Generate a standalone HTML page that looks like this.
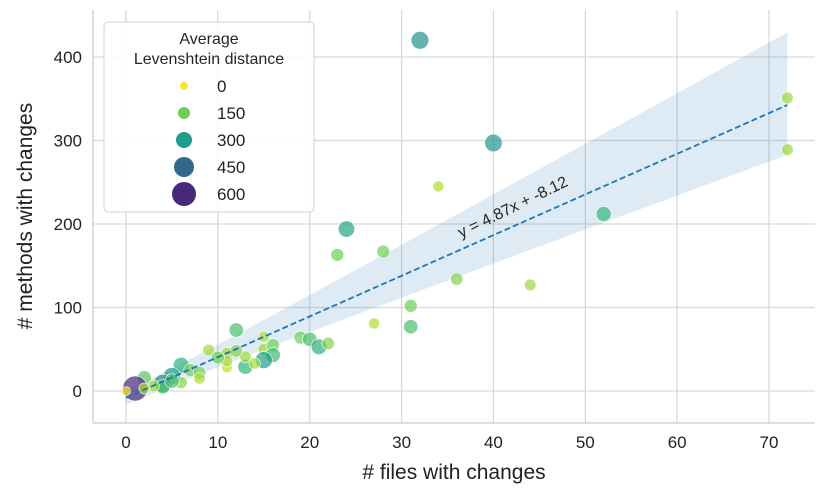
<!DOCTYPE html>
<html><head><meta charset="utf-8"><style>
body{margin:0;background:#fff;}
svg{font-family:"Liberation Sans","DejaVu Sans",sans-serif;}
</style></head><body>
<svg id="chart" width="830" height="498" xmlns="http://www.w3.org/2000/svg"></svg>
<script>
const filesChanged = [32,40,72,72,34,52,24,28,23,36,44,31,31,27,12,9,11,11,11,19,20,21,22,15,15,16,16,15,13,13,12,6,5,4,4,2,1,0,6,7,8,8,3,2,5,14,10];
const methodsChanged = [420,297,351,289,245,212,194,167,163,134,127,102,77,81,73,49,45,28,36,64,62,53,57,65,50,55,43,37,29,41,48,31,18,9,5,16,3,0,10,25,22,15,6,3,12,33,40];
const levDist = [330,320,100,100,80,230,280,150,150,130,100,150,200,80,200,100,110,60,90,150,200,250,130,80,100,150,220,300,230,100,130,250,300,350,200,180,600,0,120,150,140,90,100,80,200,90,150];
const xTicks = [0,10,20,30,40,50,60,70];
const yTicks = [0,100,200,300,400];
const legendValues = [0,150,300,450,600];
const slope = 4.87, intercept = -8.12;

const NS="http://www.w3.org/2000/svg";
const svg=document.getElementById('chart');
const L=93,R=815,T=10,B=423;
const xs=v=>126+(v)*9.186;
const ys=v=>391-v*0.835;
function el(tag,attrs,parent){const e=document.createElementNS(NS,tag);for(const k in attrs)e.setAttribute(k,attrs[k]);(parent||svg).appendChild(e);return e;}
const vir=[[68,1,84],[72,40,120],[62,73,137],[49,104,142],[38,130,142],[31,158,137],[53,183,121],[110,206,88],[181,222,43],[253,231,37]];
function color(v){let p=1+8*(1-Math.min(v,600)/600);let i=Math.min(Math.floor(p),vir.length-2),f=p-i;const c=vir[i].map((a,k)=>Math.round(a+(vir[i+1][k]-a)*f));return `rgb(${c})`;}
const rad=v=>4+8*Math.min(v,600)/600;

xTicks.forEach(t=>{const g=el('line',{x1:xs(t),x2:xs(t),y1:T,y2:B,stroke:'#d9d9d9','stroke-width':1.3});
 const tx=el('text',{x:xs(t),y:448,'text-anchor':'middle','font-size':17,fill:'#222'});tx.textContent=t;});
yTicks.forEach(t=>{const g=el('line',{x1:L,x2:R,y1:ys(t),y2:ys(t),stroke:'#d9d9d9','stroke-width':1.3});
 const tx=el('text',{x:82,y:ys(t)+6,'text-anchor':'end','font-size':17,fill:'#222'});tx.textContent=t;});
const sp1=el('line',{x1:L,x2:L,y1:T,y2:B,stroke:'#cccccc','stroke-width':1.3});
const sp2=el('line',{x1:L,x2:R,y1:B,y2:B,stroke:'#cccccc','stroke-width':1.3});

let up=[],lo=[];
for(let x=0;x<=72;x+=1){const y=slope*x+intercept;up.push(xs(x)+','+ys(y+Math.sqrt(81+(1.2*x)**2)));lo.unshift(xs(x)+','+ys(y-Math.sqrt(81+(0.82*x)**2)));}
const band=el('polygon',{points:up.concat(lo).join(' '),fill:'#1f77b4','fill-opacity':0.15});


filesChanged.forEach((x,i)=>{const c=el('circle',{cx:xs(x),cy:ys(methodsChanged[i]),r:rad(levDist[i])+0.5,fill:color(levDist[i]),'fill-opacity':0.7,stroke:'#fff','stroke-width':0.6});
 });

const rl=el('line',{x1:xs(0),y1:ys(intercept),x2:xs(72),y2:ys(slope*72+intercept),stroke:'#1f77b4','stroke-width':1.8,'stroke-dasharray':'6,3'});

const eq=el('text',{x:0,y:0,'font-size':16,fill:'#262626',transform:'translate(461,238) rotate(-26)'});eq.textContent='y = 4.87x + -8.12';


const xt=el('text',{x:454,y:479,'text-anchor':'middle','font-size':21,fill:'#222'});xt.textContent='# files with changes';
const yt=el('text',{x:0,y:0,'text-anchor':'middle','font-size':21,fill:'#222',transform:'translate(32,216) rotate(-90)'});yt.textContent='# methods with changes';

const lg=el('g',{});
el('rect',{x:104,y:22,width:210,height:190,rx:4,fill:'#fff','fill-opacity':0.85,stroke:'#d0d0d0'},lg);
const t1=el('text',{x:209,y:44,'text-anchor':'middle','font-size':16,fill:'#262626'},lg);t1.textContent='Average';
const t2=el('text',{x:209,y:64,'text-anchor':'middle','font-size':16,fill:'#262626'},lg);t2.textContent='Levenshtein distance';
legendValues.forEach((v,i)=>{const y=86+i*27;const g=el('g',{},lg);
 el('circle',{cx:184,cy:y,r:rad(v),fill:color(v)},g);const tx=el('text',{x:217,y:y+6,'font-size':17,fill:'#222'},g);tx.textContent=v;});
</script>
</body></html>
